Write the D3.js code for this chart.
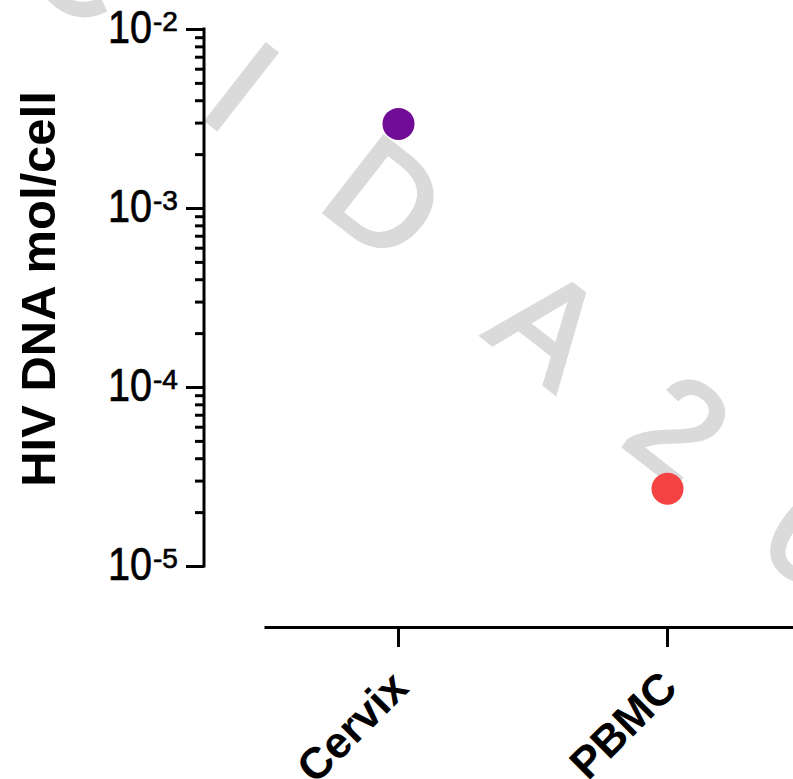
<!DOCTYPE html>
<html>
<head>
<meta charset="utf-8">
<script src="https://cdn.jsdelivr.net/npm/d3@7"></script>
<style>
  html, body { margin: 0; padding: 0; background: #fff; }
  svg { display: block; }
</style>
</head>
<body>
<div id="chart"></div>
<script>
// data
const categories = ["Cervix", "PBMC"];
const values = [2.95e-3, 2.7e-5];
const yDecades = [-5, -4, -3, -2];
const yTitle = "HIV DNA mol/cell";
const watermark = "CIDA2023";

const W = 793, H = 779;
const font = "Arial, 'Liberation Sans', sans-serif";

const svg = d3.select("#chart").append("svg")
  .attr("width", W)
  .attr("height", H);

// faint watermark behind everything, uneven spacing like the original
const wmGaps = [-30, 130, 112, 110, 80, 95, 95, 95];
svg.append("text")
  .attr("transform", "translate(38,-11) rotate(38)")
  .style("font-family", font)
  .style("font-size", "140px")
  .attr("fill", "#dadada")
  .attr("stroke", "#dadada")
  .attr("stroke-width", 4)
  .selectAll("tspan")
  .data(watermark.split(""))
  .join("tspan")
  .attr("dx", (d, i) => wmGaps[i])
  .text(d => d);

const y = d3.scaleLog()
  .domain([1e-5, 1e-2])
  .range([566, 29]);

const x = d3.scaleBand()
  .domain(categories)
  .range([264, 802])
  .padding(0);

const color = d3.scaleOrdinal()
  .domain(categories)
  .range(["#700c95", "#f54242"]);

// ---- y axis ----
const axisX = 204;
const majors = yDecades.map(e => Math.pow(10, e));
const minors = [];
yDecades.slice(0, -1).forEach(e => {
  for (let k = 2; k <= 9; k++) minors.push(k * Math.pow(10, e));
});

const yAxis = svg.append("g")
  .attr("transform", `translate(${axisX},0)`);

yAxis.append("g")
  .call(d3.axisLeft(y).tickValues(minors).tickSize(9).tickSizeOuter(0).tickFormat(""))
  .call(g => g.selectAll("line").attr("stroke", "#000").attr("stroke-width", 3));

yAxis.append("g")
  .call(d3.axisLeft(y).tickValues(majors).tickSize(18).tickSizeOuter(0).tickFormat(""))
  .call(g => g.selectAll("line").attr("stroke", "#000").attr("stroke-width", 3))
  .call(g => g.select(".domain").attr("stroke", "#000").attr("stroke-width", 3)
    .attr("d", `M0,${y(1e-5) + 1.5}V${y(1e-2) - 1.5}`));

// tick labels: 10 with superscript exponent
const labels = svg.append("g")
  .attr("stroke", "#000")
  .attr("stroke-width", 0.7);
yDecades.forEach(e => {
  const ty = y(Math.pow(10, e));
  labels.append("text")
    .attr("x", 152)
    .attr("y", ty + 14)
    .attr("text-anchor", "end")
    .attr("textLength", 44)
    .attr("lengthAdjust", "spacingAndGlyphs")
    .style("font-family", font)
    .style("font-size", "46px")
    .text("10");
  labels.append("text")
    .attr("x", 153)
    .attr("y", ty + 2)
    .style("font-family", font)
    .style("font-size", "28px")
    .text("-" + (-e));
});

// y title
svg.append("text")
  .attr("transform", `translate(55,${289}) rotate(-90)`)
  .attr("text-anchor", "middle")
  .style("font-family", font)
  .style("font-size", "49px")
  .style("font-weight", "bold")
  .text(yTitle);

// ---- x axis ----
const xAxis = svg.append("g")
  .attr("transform", "translate(0,627)")
  .call(d3.axisBottom(x).tickSize(20).tickSizeOuter(0).tickFormat(""));
xAxis.selectAll("line").attr("stroke", "#000").attr("stroke-width", 3);
xAxis.select(".domain").attr("stroke", "#000").attr("stroke-width", 3);

svg.append("g").selectAll("text")
  .data(categories)
  .join("text")
  .attr("transform", d => `translate(${x(d) + x.bandwidth() / 2 + 12},690) rotate(-45)`)
  .attr("text-anchor", "end")
  .style("font-family", font)
  .style("font-size", "44px")
  .style("font-weight", "bold")
  .text(d => d);

// ---- points ----
svg.append("g").selectAll("circle")
  .data(categories.map((c, i) => ({ c, v: values[i] })))
  .join("circle")
  .attr("cx", d => x(d.c) + x.bandwidth() / 2)
  .attr("cy", d => y(d.v))
  .attr("r", 16)
  .attr("fill", d => color(d.c));
</script>
</body>
</html>
